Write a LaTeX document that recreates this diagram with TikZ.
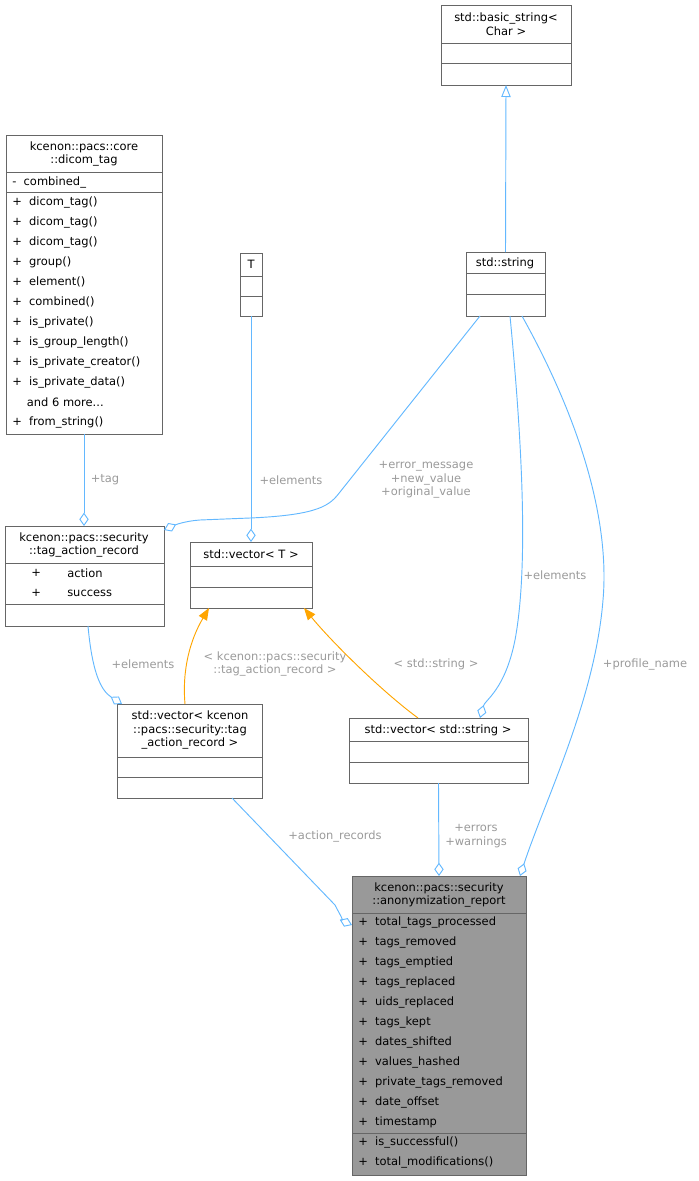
\documentclass[tikz,border=0pt]{standalone}
\usepackage{fontspec}
\setmainfont{DejaVu Sans}
\usetikzlibrary{arrows.meta}
\definecolor{edge}{HTML}{63B8FF}
\definecolor{lbl}{HTML}{9A9A9A}
\definecolor{bord}{HTML}{666666}
\definecolor{orng}{HTML}{FFA500}
\begin{document}
\begin{tikzpicture}[x=0.75pt,y=-0.75pt,
  box/.style={draw=bord,line width=0.7pt,fill=white,anchor=north west,inner sep=0,outer sep=0},
  t/.style={font=\fontsize{8.6}{10.2}\selectfont,inner sep=0,align=center},
  m/.style={font=\fontsize{8.6}{10.2}\selectfont,inner sep=0,anchor=west},
  l/.style={font=\fontsize{8.6}{10.2}\selectfont,inner sep=0,align=center,text=lbl},
  use/.style={draw=edge,line width=0.7pt,-{Diamond[open,length=10pt,width=7pt]}},
  inh/.style={draw=edge,line width=0.7pt,-{Triangle[open,length=9pt,width=7pt]}},
  tpl/.style={draw=orng,line width=0.7pt,-{Triangle[length=9pt,width=7pt,fill=orng]}},
  sep/.style={draw=bord,line width=0.7pt}]
\useasboundingbox (0,0) rectangle (699,1181);
% boxes
\newcommand{\bx}[5]{\node[box,minimum width=#3*0.75pt,minimum height=#4*0.75pt,#5] (#1) at (#2) {};}
\bx{bs}{441,5}{130}{80}{}
\bx{dt}{6,135}{156}{299}{}
\bx{T}{240,253}{22}{63}{}
\bx{str}{466,252}{79}{64}{}
\bx{tar}{5,526}{159}{100}{}
\bx{vT}{190,542}{122}{66}{}
\bx{vk}{117,704}{145}{94}{}
\bx{vs}{349,718}{179}{65}{}
\bx{ar}{352,876}{174}{299}{fill={rgb,255:red,153;green,153;blue,153}}
% separators
\draw[sep] (441,43)--(571,43) (441,63)--(571,63);
\draw[sep] (6,172)--(162,172) (6,192)--(162,192);
\draw[sep] (240,276)--(262,276) (240,296)--(262,296);
\draw[sep] (466,273)--(545,273) (466,294)--(545,294);
\draw[sep] (5,563)--(164,563) (5,604)--(164,604);
\draw[sep] (190,566)--(312,566) (190,587)--(312,587);
\draw[sep] (117,757)--(262,757) (117,777)--(262,777);
\draw[sep] (349,741)--(528,741) (349,762)--(528,762);
\draw[sep] (352,913)--(526,913) (352,1133)--(526,1133);
% titles
\node[t] at (506,24) {std::basic\_string<\\Char >};
\node[t] at (84,154) {kcenon::pacs::core\\::dicom\_tag};
\node[t] at (251,264) {T};
\node[t] at (505,263) {std::string};
\node[t] at (84,545) {kcenon::pacs::security\\::tag\_action\_record};
\node[t] at (251,554) {std::vector< T >};
\node[t] at (190,730) {std::vector< kcenon\\::pacs::security::tag\\\_action\_record >};
\node[t] at (438,730) {std::vector< std::string >};
\node[t] at (439,895) {kcenon::pacs::security\\::anonymization\_report};
% members
\node[m] at (12,182) {-\ \ combined\_};
\foreach \s [count=\i from 0] in {+\ \ dicom\_tag(),+\ \ dicom\_tag(),+\ \ dicom\_tag(),+\ \ group(),+\ \ element(),+\ \ combined(),+\ \ is\_private(),+\ \ is\_group\_length(),+\ \ is\_private\_creator(),+\ \ is\_private\_data()}
  \node[m] at (12,202+20*\i) {\s};
\node[m] at (12,402) {\ \ \ \ and 6 more.{}.{}.};
\node[m] at (12,422) {+\ \ from\_string()};
\node[m] at (31,573) {+};\node[m] at (67,573) {action};
\node[m] at (31,593) {+};\node[m] at (67,593) {success};
\foreach \s [count=\i from 0] in {total\_tags\_processed,tags\_removed,tags\_emptied,tags\_replaced,uids\_replaced,tags\_kept,dates\_shifted,values\_hashed,private\_tags\_removed,date\_offset,timestamp}
  \node[m] at (358,922+20*\i) {+\ \ \s};
\node[m] at (358,1142) {+\ \ is\_successful()};
\node[m] at (358,1162) {+\ \ total\_modifications()};
% edges
\draw[inh] (str.north) -- (bs.south);
\draw[use] (dt.south) -- (84,526);
\node[l] at (105,480) {+tag};
\draw[use] (T.south) -- (251,542);
\node[l] at (291,480) {+elements};
\draw[use] (480,316) -- (340,492) .. controls (330,505) and (320,515) .. (250,518) -- (200,520) .. controls (185,521) and (175,525) .. (164,530);
\node[l] at (426,480) {+error\_message\\+new\_value\\+original\_value};
\draw[use] (510,316) .. controls (520,420) and (530,560) .. (515,640) .. controls (505,690) and (485,700) .. (480,718);
\node[l] at (555,575) {+elements};
\draw[use] (522,316) .. controls (580,420) and (610,520) .. (603,600) .. controls (595,700) and (545,800) .. (520,876);
\node[l] at (645,664) {+profile\_name};
\draw[use] (88,626) .. controls (92,670) and (100,690) .. (122,704);
\node[l] at (143,664) {+elements};
\draw[tpl] (185,704) .. controls (182,670) and (190,640) .. (209,608);
\node[l] at (275,664) {< kcenon::pacs::security\\::tag\_action\_record >};
\draw[tpl] (418,718) .. controls (380,690) and (330,640) .. (304,608);
\node[l] at (436,664) {< std::string >};
\draw[use] (232,798) -- (335,905) .. controls (340,915) and (345,922) .. (352,925);
\node[l] at (335,836) {+action\_records};
\draw[use] (vs.south) -- (439,876);
\node[l] at (476,836) {+errors\\+warnings};
\end{tikzpicture}
\end{document}
